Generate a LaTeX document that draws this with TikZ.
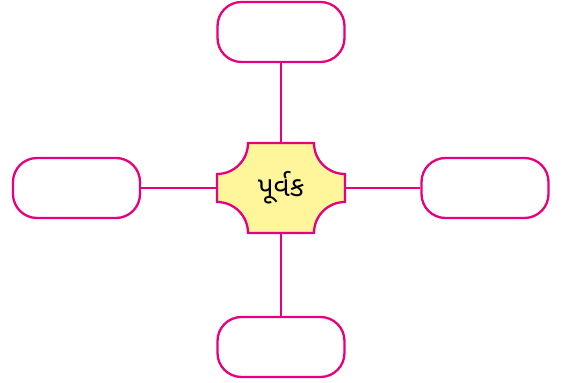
\documentclass[tikz,border=0pt]{standalone}
\usepackage{fontspec}
\newfontfamily\gujfont[Script=Gujarati]{Noto Sans Gujarati UI}
\definecolor{mag}{HTML}{E5007D}
\definecolor{pale}{HTML}{FFF59B}
\begin{document}
\begin{tikzpicture}[x=1pt,y=1pt,
  leaf/.style={draw=mag,line width=2.3pt,rounded corners=24pt,minimum width=127pt,minimum height=60pt,inner sep=0pt,fill=white},
  link/.style={draw=mag,line width=2.3pt}]
\useasboundingbox (0,0) rectangle (563,383);
% center shape
\fill[pale] (248,240) -- (314,240) arc[start angle=180,end angle=270,radius=31]
  -- (345,181) arc[start angle=90,end angle=180,radius=31]
  -- (248,150) arc[start angle=0,end angle=90,radius=31]
  -- (217,209) arc[start angle=-90,end angle=0,radius=31] -- cycle;
\draw[mag,line width=2.3pt] (248,240) -- (314,240) arc[start angle=180,end angle=270,radius=31]
  -- (345,181) arc[start angle=90,end angle=180,radius=31]
  -- (248,150) arc[start angle=0,end angle=90,radius=31]
  -- (217,209) arc[start angle=-90,end angle=0,radius=31] -- cycle;
\node[minimum width=128pt,minimum height=90pt,inner sep=0pt] (c) at (281,195) {\gujfont\fontsize{28}{32}\selectfont પૂર્વક};
\node[leaf] (t) at (281,351) {};
\node[leaf] (b) at (281,36) {};
\node[leaf] (l) at (76.5,195) {};
\node[leaf] (r) at (485,195) {};
\draw[link] (t.south) -- (c.north);
\draw[link] (b.north) -- (c.south);
\draw[link] (l.east) -- (c.west);
\draw[link] (r.west) -- (c.east);
\end{tikzpicture}
\end{document}
